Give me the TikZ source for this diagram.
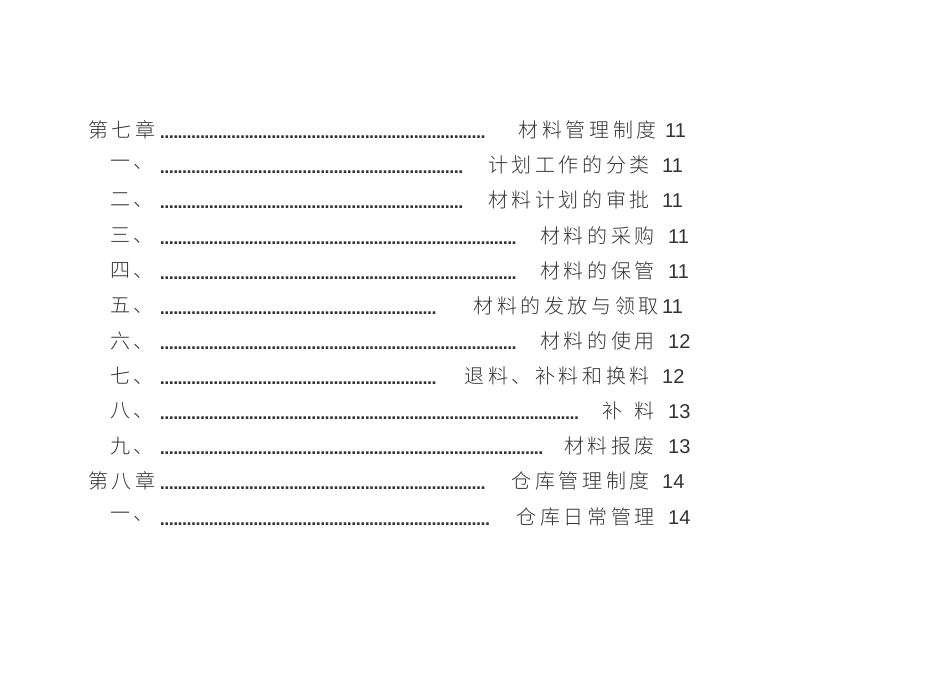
\documentclass[tikz,border=0pt]{standalone}
\usepackage{fontspec}
\setmainfont{Liberation Sans}
\newfontfamily\cjk[LetterSpace=18]{Noto Sans CJK SC Light}
\begin{document}
\begin{tikzpicture}[x=1pt,y=-1pt,
  lbl/.style={anchor=west,inner sep=0pt,font=\cjk\fontsize{20}{20}\selectfont,text=black!80},
  ttl/.style={anchor=east,inner sep=0pt,font=\cjk\fontsize{20}{20}\selectfont,text=black!80},
  num/.style={anchor=west,inner sep=0pt,font=\fontsize{20}{20}\selectfont,text=black!80},
  dots/.style={anchor=west,inner sep=0pt,font=\bfseries\fontsize{18}{18}\selectfont,text=black!80}]
\useasboundingbox (0,0) rectangle (950,672);
\foreach \i/\y/\lx/\lab/\de/\te/\t/\nx/\n in {
 1/130/88/第七章/487/657/材料管理制度/665/11,
 2/165/110/一、/463/650/计划工作的分类/662/11,
 3/200/110/二、/463/650/材料计划的审批/662/11,
 4/236/110/三、/517/655/材料的采购/668/11,
 5/271/110/四、/517/655/材料的保管/668/11,
 6/306/110/五、/437/659/材料的发放与领取/662/11,
 7/341/110/六、/517/655/材料的使用/668/12,
 8/376/110/七、/437/650/退料、补料和换料/662/12,
 9/411/110/八、/580/655/补\hspace{0.6em}料/668/13,
 10/446/110/九、/543/655/材料报废/668/13,
 11/481/88/第八章/487/650/仓库管理制度/662/14,
 12/517/110/一、/490/655/仓库日常管理/668/14}{
  \node[lbl] (l\i) at (\lx,\y) {\lab};
  \pgfmathsetmacro{\w}{\de-160}
  \node[dots] (d\i) at (160,\y+7) {\hbox to \w pt{\leaders\hbox to 4.45pt{\hss.\hss}\hfill}};
  \node[ttl] (t\i) at (\te,\y) {\t};
  \node[num] (n\i) at (\nx,\y+1) {\n};
}
\end{tikzpicture}
\end{document}
